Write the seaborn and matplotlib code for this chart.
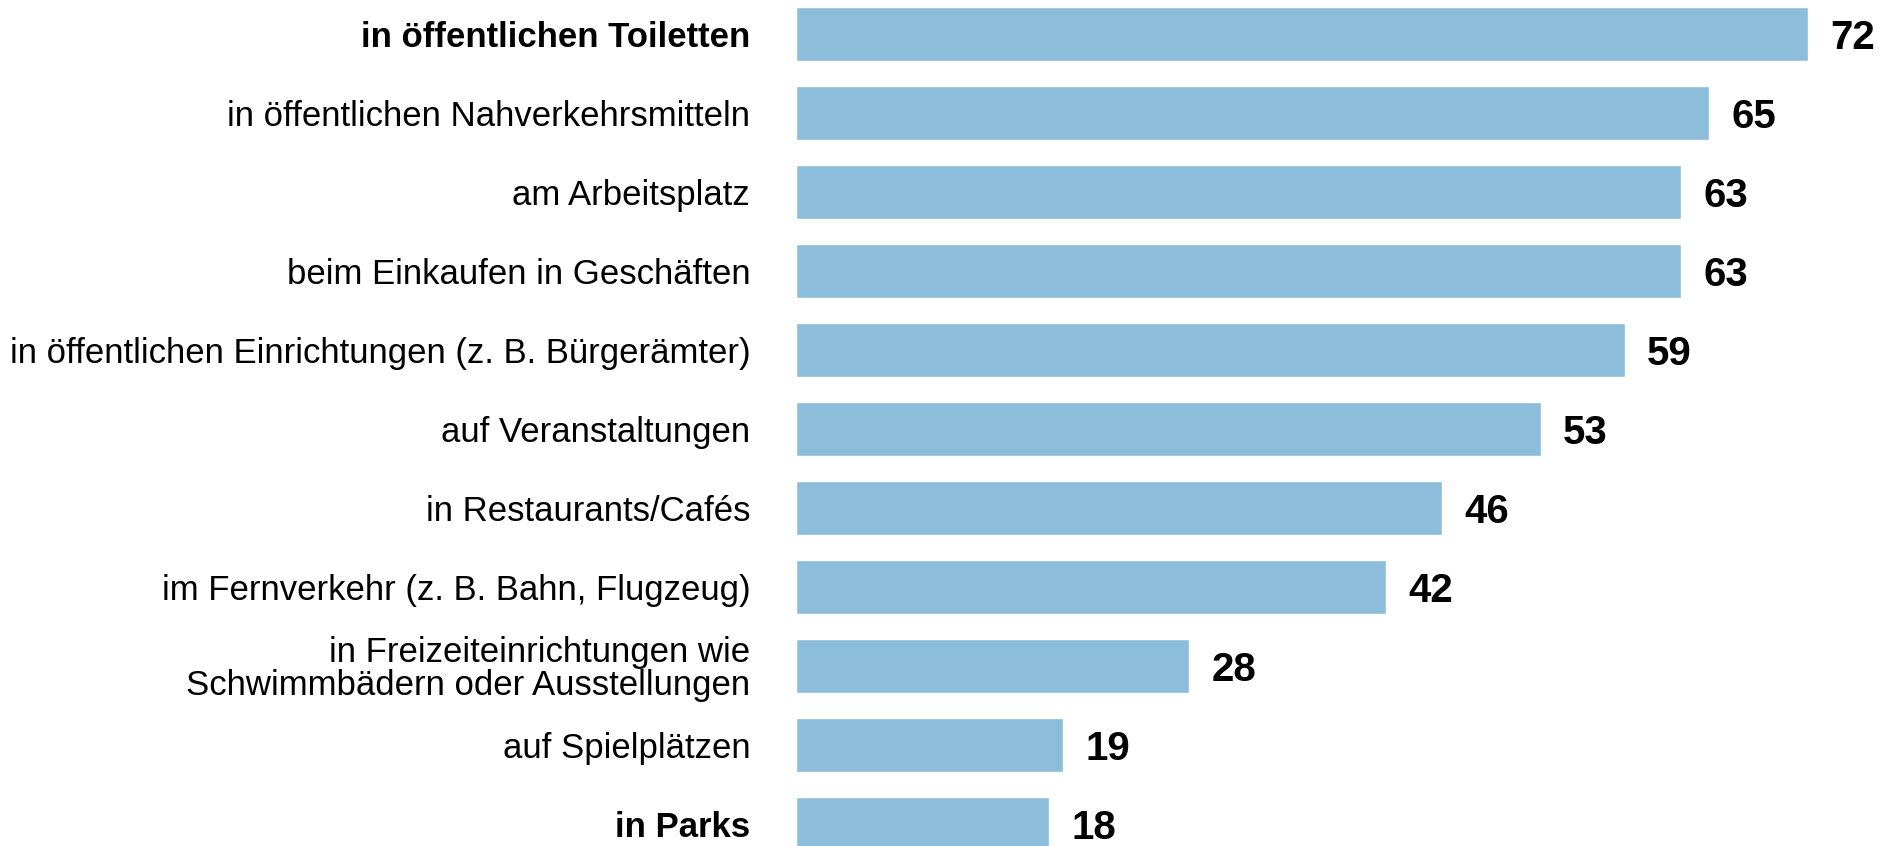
import numpy as np
import pandas as pd
import seaborn as sns
import matplotlib.pyplot as plt

# Daten aus dem Diagramm
kategorien = [
    "in öffentlichen Toiletten",
    "in öffentlichen Nahverkehrsmitteln",
    "am Arbeitsplatz",
    "beim Einkaufen in Geschäften",
    "in öffentlichen Einrichtungen (z. B. Bürgerämter)",
    "auf Veranstaltungen",
    "in Restaurants/Cafés",
    "im Fernverkehr (z. B. Bahn, Flugzeug)",
    "in Freizeiteinrichtungen wie\nSchwimmbädern oder Ausstellungen",
    "auf Spielplätzen",
    "in Parks",
]
werte = [72, 65, 63, 63, 59, 53, 46, 42, 28, 19, 18]
fett = ["in öffentlichen Toiletten", "in Parks"]

df = pd.DataFrame({"ort": kategorien, "wert": werte})

sns.set_theme(style="white")
plt.rcParams['font.family'] = ['Liberation Sans', 'DejaVu Sans']
plt.rcParams['text.color'] = 'black'
plt.rcParams['ytick.color'] = 'black'

fig = plt.figure(figsize=(19.03, 8.46), dpi=100)
ax = fig.add_axes([796/1903, 0, 1 - 796/1903, 1])

sns.barplot(data=df, x="wert", y="ort", orient="h", color="#8cbdda",
            saturation=1, width=0.68, ax=ax)

ax.set_xlim(0, 1107/14.05)
ax.set_ylim(10.28, -0.43)
ax.set_xlabel("")
ax.set_ylabel("")
ax.set_xticks([])
sns.despine(ax=ax, left=True, bottom=True)

ax.tick_params(axis="y", length=0, pad=33, labelsize=25, labelcolor="black")
for t in ax.get_yticklabels():
    t.set_horizontalalignment("right")
    t.set_linespacing(0.98)
    if t.get_text() in fett:
        t.set_fontweight("bold")

anns = ax.bar_label(ax.containers[0], labels=[str(v) for v in werte], padding=16,
                    fontsize=29, fontweight="bold", color="black")
for a in anns:
    a.xyann = (16, -3)  # etwas tiefer, wie im Original

fig.savefig("out.png", dpi=100)
